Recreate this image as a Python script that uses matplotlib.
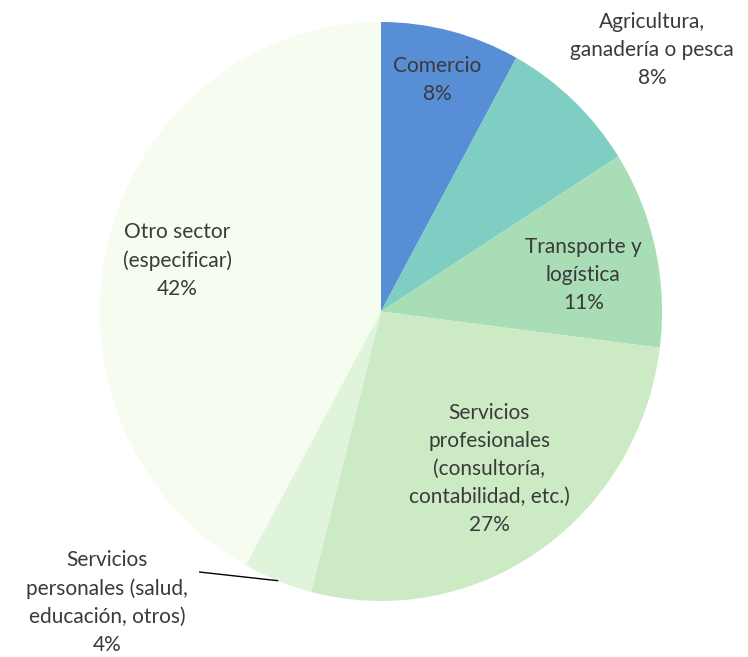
import matplotlib
matplotlib.use("Agg")
import matplotlib.pyplot as plt
import numpy as np

# Sector shares (%) in clockwise order starting at 12 o'clock
sectors = [
    "Comercio",
    "Agricultura,\nganadería o pesca",
    "Transporte y\nlogística",
    "Servicios\nprofesionales\n(consultoría,\ncontabilidad, etc.)",
    "Servicios\npersonales (salud,\neducación, otros)",
    "Otro sector\n(especificar)",
]
shares = [8, 8, 11, 27, 4, 42]
colors = ["#588ED6", "#7ECEC4", "#A8DDB5", "#CCEBC5", "#E0F3DB", "#F7FCF0"]

# Label anchor points (data units, pie radius = 1)
label_xy = [
    (0.20, 0.80),
    (0.965, 0.905),
    (0.72, 0.125),
    (0.385, -0.545),
    (-0.975, -1.005),
    (-0.725, 0.175),
]

plt.rcParams["font.family"] = ["Lato", "DejaVu Sans"]

W, H = 748, 657
fig = plt.figure(figsize=(W / 100, H / 100), dpi=100)
ax = fig.add_axes([100 / W, (H - 601) / H, 562 / W, 579 / H])

wedges, _ = ax.pie(shares, colors=colors, startangle=90, counterclock=False,
                   radius=1.0, wedgeprops=dict(linewidth=0))
ax.set_aspect("auto")
ax.set_xlim(-1, 1)
ax.set_ylim(-1, 1)
ax.axis("off")

total = sum(shares)
for name, val, (lx, ly) in zip(sectors, shares, label_xy):
    ax.text(lx, ly, f"{name}\n{round(100 * val / total)}%", ha="center", va="center",
            fontsize=15, color="#3a3a3a", linespacing=1.5, clip_on=False)

# Leader line for the small slice
start = sum(shares[:4]) / total
mid = (start + shares[4] / total / 2) * 2 * np.pi
ex, ey = np.sin(mid), np.cos(mid)
ax.plot([-0.645, ex], [-0.90, ey], color="#000000", lw=1.0, clip_on=False)

fig.savefig("out.png", dpi=100)
